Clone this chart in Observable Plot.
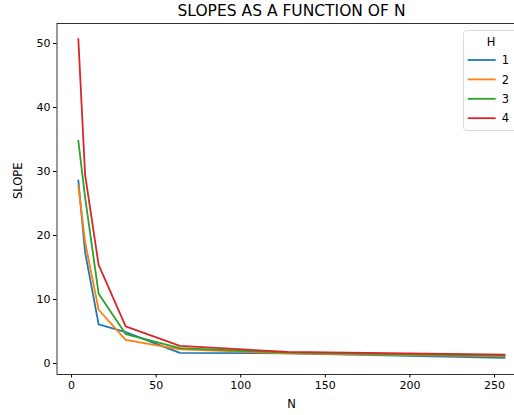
<!DOCTYPE html>
<html>
<head>
<meta charset="utf-8">
<script src="https://cdn.jsdelivr.net/npm/d3@7"></script>
<script src="https://cdn.jsdelivr.net/npm/@observablehq/plot@0.6"></script>
<style>
  html, body { margin: 0; padding: 0; background: #fff; overflow: hidden; width: 514px; height: 415px; }
  #chart { width: 514px; height: 415px; overflow: hidden; }
  #chart svg { max-width: none !important; }
</style>
</head>
<body>
<div id="chart"></div>
<script>
const title = "SLOPES AS A FUNCTION OF N";
const xLabel = "N";
const yLabel = "SLOPE";
const legendTitle = "H";
const seriesNames = ["1", "2", "3", "4"];
const colors = ["#1f77b4", "#ff7f0e", "#2ca02c", "#d62728"];
const N = [4, 8, 16, 32, 64, 128, 256];
const h1 = [28.6, 17.4, 6.1, 4.9, 1.65, 1.6, 0.9];
const h2 = [27.8, 19.0, 8.4, 3.7, 2.2, 1.6, 1.1];
const h3 = [34.8, 26.0, 10.9, 4.6, 2.4, 1.7, 1.25];
const h4 = [50.7, 29.5, 15.4, 5.8, 2.75, 1.8, 1.4];
const xTicks = [0, 50, 100, 150, 200, 250];
const yTicks = [0, 10, 20, 30, 40, 50];

const seriesValues = [h1, h2, h3, h4];
const rows = [];
seriesValues.forEach((vals, i) => {
  vals.forEach((v, j) => rows.push({H: seriesNames[i], N: N[j], slope: v}));
});

const font = "DejaVu Sans, sans-serif";
const W = 530;
const chart = Plot.plot({
  width: W,
  height: 415,
  marginLeft: 56.5,
  marginRight: W - 525.5,
  marginTop: 23,
  marginBottom: 41,
  style: {fontFamily: font, fontSize: "11px", color: "#000", background: "#fff", maxWidth: "none"},
  x: {domain: [-8.6, 268.6]},
  y: {domain: [-1.72, 53.12]},
  color: {domain: seriesNames, range: colors},
  marks: [
    Plot.frame({stroke: "#000", strokeWidth: 0.8}),
    Plot.axisX({ticks: xTicks, tickSize: 3.5, tickPadding: 3, label: null, fontSize: 11}),
    Plot.axisY({ticks: yTicks, tickSize: 3.5, tickPadding: 3, label: null, fontSize: 11}),
    Plot.line(rows, {x: "N", y: "slope", z: "H", stroke: "H", strokeWidth: 1.8}),
    Plot.text([title], {frameAnchor: "top", lineAnchor: "middle", dy: -12, fontSize: 15.5, fill: "#000", text: d => d}),
    Plot.text([xLabel], {frameAnchor: "bottom", dy: 33, fontSize: 11.5, fill: "#000", text: d => d}),
    Plot.text([yLabel], {frameAnchor: "left", dx: -39, rotate: -90, fontSize: 11.5, fill: "#000", text: d => d})
  ]
});
document.getElementById("chart").appendChild(chart);

// Legend (drawn inside the plot area, top-right)
const svg = d3.select(chart);
const lg = svg.append("g").attr("font-family", font).attr("font-size", 11.5);
lg.append("rect").attr("x", 463.5).attr("y", 30.5).attr("width", 70).attr("height", 100)
  .attr("rx", 3).attr("fill", "#fff").attr("fill-opacity", 0.8).attr("stroke", "#d0d0d0").attr("stroke-width", 0.8);
lg.append("text").attr("x", 491).attr("y", 46).attr("text-anchor", "middle").text(legendTitle);
seriesNames.forEach((s, i) => {
  const y = 60 + i * 19.4;
  lg.append("line").attr("x1", 467.7).attr("x2", 495.7).attr("y1", y).attr("y2", y)
    .attr("stroke", colors[i]).attr("stroke-width", 1.8);
  lg.append("text").attr("x", 505.5).attr("y", y + 4.2).text(s);
});
</script>
</body>
</html>
